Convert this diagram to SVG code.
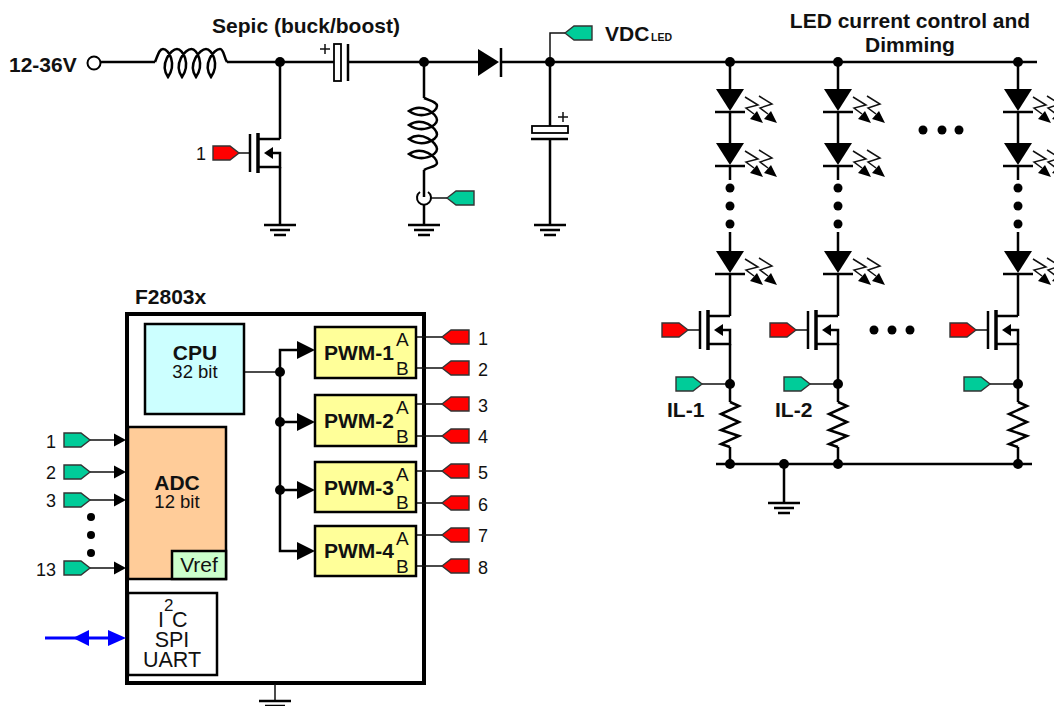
<svg xmlns="http://www.w3.org/2000/svg" xmlns:xlink="http://www.w3.org/1999/xlink" width="1054" height="706" viewBox="0 0 1054 706">
<style>
text{font-family:"Liberation Sans",Arial,sans-serif;fill:#111}
.b{font-weight:bold}
.w{fill:none;stroke:#000;stroke-width:2.500}
.ch{fill:none;stroke:#000;stroke-width:3.500}
.t{fill:none;stroke:#111;stroke-width:1.500}
.f{fill:#000;stroke:none}
.box{stroke:#000;stroke-width:2.500}
.red{fill:#ff0000;stroke:#333;stroke-width:1.400}
.grn{fill:#00cc99;stroke:#333;stroke-width:1.400}
.pn{font-size:18px}
.pl{font-size:19px}
.pw{font-size:21px;font-weight:bold}
</style>
<defs>
<path id="coil" class="w" d="M0,0C3,-7 4,-13 8,-13C14,-13 22,2 13,15C4,2 16,-13 22,-13C28,-13 36,2 27,15C18,2 30,-13 36.500,-13C42,-13 50,2 41,15C32,2 45,-13 51,-13C57,-13 65,2 56,15C47,2 59,-13 65,-13C69,-13 69,-4 72,0"/>
<g id="gnd" class="w"><path d="M-16,0H16M-10,5H10M-6,10H6"/></g>
<g id="led"><path class="f" d="M-14,-22H14L0,0Z"/><path class="w" d="M-15,1H15"/>
<path class="t" d="M15,-14L28,-6L16,-3L24,3M29,-15L42,-7L30,-3L38,3"/>
<path class="f" d="M33,12L20,8L27,0ZM47,12L34,8L41,0Z"/></g>
<g id="fet"><path class="w" d="M-30,-19V19"/><path class="ch" d="M-22,-20V20"/><path class="w" d="M-22,-14H0M-22,14H0V0H-8"/><path class="f" d="M-16,0L-7,-6V6Z"/></g>
<path id="tr" d="M0,-7H17L26,0L17,7H0Z"/>
<path id="tl" d="M0,0L9,-7H27V7H9Z"/>
<path id="res" class="w" d="M0,0L9,4L-9,12L9,20L-9,28L9,34L-9,42L0,45"/>
<path id="arrR" class="f" d="M0,-9L18,0L0,9Z"/>
<path id="arrS" class="f" d="M0,-6.500L12,0L0,6.500Z"/>
</defs>

<g id="chip"><rect x="127" y="314" width="297" height="369" fill="#fff" stroke="#000" stroke-width="4"/></g>

<g id="connectors">
<path class="w" d="M101,62H155M227,62H334M348,62H478M501,62H1037M280,62V139M280,167V225M424,62V98M424,170V197M424,205V225M550,62V126M550,139V225"/>
<path class="t" d="M550,62V33H565M431,198H447M250,153H238"/>
<path class="w" d="M730,62V89M730,111V143M730,165V180M730,232V251M730,273V316M730,344V402M730,447V464M838,62V89M838,111V143M838,165V180M838,232V251M838,273V316M838,344V402M838,447V464M1018,62V89M1018,111V143M1018,165V180M1018,232V251M1018,273V316M1018,344V402M1018,447V464M716,464H1032M784,464V503"/>
<path class="t" d="M688,330H700M796,330H808M976,330H988M702,384H730M810,384H838M990,384H1018"/>
<path class="t" d="M416,337H442M416,368H442M416,404H442M416,436H442M416,471H442M416,503H442M416,535H442M416,566H442"/>
<path class="t" d="M90,440H114M90,472H114M90,500H114M90,568H114M244,372H280M275,684V701"/>
<path class="w" d="M297,350H280V551H297M280,422H297M280,490H297"/>
<g fill="#0000ff"><path d="M45,638H110" stroke="#0000ff" stroke-width="3"/><path d="M73,638L89,630V646ZM126,638L108,630V646Z"/></g>
</g>

<g id="chip-arrows">
<use href="#arrS" x="114" y="440"/><use href="#arrS" x="114" y="472"/><use href="#arrS" x="114" y="500"/><use href="#arrS" x="114" y="568"/>
</g>
<g id="cpu"><rect class="box" x="145" y="324" width="99" height="90" fill="#ccffff"/><text class="b" x="195" y="360" font-size="21" text-anchor="middle">CPU</text><text x="195" y="378" font-size="18.500" text-anchor="middle">32 bit</text></g>
<g id="adc"><rect class="box" x="128" y="427" width="98" height="152" fill="#ffcc99"/><text class="b" x="177" y="490" font-size="21" text-anchor="middle">ADC</text><text x="177" y="508" font-size="18.500" text-anchor="middle">12 bit</text></g>
<g id="vref"><rect class="box" x="172" y="551" width="54" height="28" fill="#ccffcc"/><text x="199" y="572" font-size="21" text-anchor="middle">Vref</text></g>
<g id="comm"><rect class="box" x="128" y="593" width="89" height="82" fill="#fff"/><text x="158" y="627" font-size="21.500">I</text><text x="164" y="611" font-size="17">2</text><text x="172" y="627" font-size="21.500">C</text><text x="172" y="647" font-size="21.500" text-anchor="middle">SPI</text><text x="172" y="667" font-size="21.500" text-anchor="middle">UART</text></g>
<g id="pwm1"><rect class="box" x="315" y="327" width="101" height="51" fill="#ffff99"/><text class="pw" x="324" y="360">PWM-1</text><text class="pl" x="396" y="346">A</text><text class="pl" x="396" y="375">B</text></g>
<g id="pwm2"><rect class="box" x="315" y="395" width="101" height="51" fill="#ffff99"/><text class="pw" x="324" y="428">PWM-2</text><text class="pl" x="396" y="414">A</text><text class="pl" x="396" y="443">B</text></g>
<g id="pwm3"><rect class="box" x="315" y="462" width="101" height="50" fill="#ffff99"/><text class="pw" x="324" y="495">PWM-3</text><text class="pl" x="396" y="481">A</text><text class="pl" x="396" y="509">B</text></g>
<g id="pwm4"><rect class="box" x="315" y="526" width="101" height="50" fill="#ffff99"/><text class="pw" x="324" y="558">PWM-4</text><text class="pl" x="396" y="545">A</text><text class="pl" x="396" y="573">B</text></g>
<g id="pwm-arrows"><use href="#arrR" x="297" y="350"/><use href="#arrR" x="297" y="422"/><use href="#arrR" x="297" y="490"/><use href="#arrR" x="297" y="551"/>
<circle class="f" cx="280" cy="372" r="5"/><circle class="f" cx="280" cy="422" r="5"/><circle class="f" cx="280" cy="490" r="5"/></g>

<g id="pwm-tags">
<use href="#tl" class="red" x="442" y="337"/><use href="#tl" class="red" x="442" y="368"/><use href="#tl" class="red" x="442" y="404"/><use href="#tl" class="red" x="442" y="436"/><use href="#tl" class="red" x="442" y="471"/><use href="#tl" class="red" x="442" y="503"/><use href="#tl" class="red" x="442" y="535"/><use href="#tl" class="red" x="442" y="566"/>
<g class="pn"><text x="478" y="345">1</text><text x="478" y="376">2</text><text x="478" y="412">3</text><text x="478" y="443">4</text><text x="478" y="479">5</text><text x="478" y="511">6</text><text x="478" y="542">7</text><text x="478" y="574">8</text></g>
</g>
<g id="adc-tags">
<use href="#tr" class="grn" x="64" y="440"/><use href="#tr" class="grn" x="64" y="472"/><use href="#tr" class="grn" x="64" y="500"/><use href="#tr" class="grn" x="64" y="568"/>
<g class="pn" text-anchor="end"><text x="56" y="448">1</text><text x="56" y="479">2</text><text x="56" y="507">3</text><text x="56" y="576">13</text></g>
<circle class="f" cx="91" cy="517" r="4"/><circle class="f" cx="91" cy="535" r="4"/><circle class="f" cx="91" cy="553" r="4"/>
</g>
<text id="chip-label" class="b" x="135" y="304" font-size="21">F2803x</text>
<g id="chip-gnd"><use href="#gnd" x="275" y="701"/></g>

<g id="input"><circle cx="94" cy="63" r="6.500" fill="#fff" stroke="#000" stroke-width="2"/><text class="b" x="9" y="72" font-size="21">12-36V</text></g>
<text id="sepic-label" class="b" x="306" y="33" font-size="21" text-anchor="middle">Sepic (buck/boost)</text>
<g id="L1"><use href="#coil" x="155" y="62"/></g>
<g id="C1"><rect x="334" y="44" width="7" height="37" fill="#fff" stroke="#000" stroke-width="1.800"/><path class="w" d="M348,44V81"/><path class="t" d="M320,49H330M325,44V54"/></g>
<g id="D1"><path class="f" d="M478,49L499,62L478,76Z"/><path class="w" d="M501,48V77"/></g>
<g id="Q1"><use href="#fet" x="280" y="153"/><use href="#tr" class="red" x="213" y="153"/><text class="pn" x="196" y="160">1</text></g>
<g id="L2"><use href="#coil" transform="translate(424,98) rotate(90)"/></g>
<g id="sense"><path d="M420,192A7,7 0 1 0 428,192" fill="none" stroke="#000" stroke-width="2"/><use href="#tl" class="grn" x="447" y="198"/></g>
<g id="C2"><rect x="532" y="126" width="36" height="7" fill="#fff" stroke="#000" stroke-width="1.800"/><path class="w" d="M531,139H568"/><path class="t" d="M558,117H568M563,112V122"/></g>
<g id="vdc"><use href="#tl" class="grn" x="565" y="33"/><text class="b" x="605" y="41" font-size="21">VDC</text><text class="b" x="651" y="41" font-size="10.500">LED</text></g>
<g id="grounds"><use href="#gnd" x="280" y="225"/><use href="#gnd" x="424" y="225"/><use href="#gnd" x="550" y="225"/><use href="#gnd" x="784" y="503"/></g>
<text id="led-label" class="b" font-size="21" text-anchor="middle"><tspan x="910" y="28">LED current control and</tspan><tspan x="910" y="52">Dimming</tspan></text>

<g id="string1"><use href="#led" x="730" y="111"/><use href="#led" x="730" y="165"/><use href="#led" x="730" y="273"/><circle class="f" cx="730" cy="188" r="4.500"/><circle class="f" cx="730" cy="206" r="4.500"/><circle class="f" cx="730" cy="224" r="4.500"/><use href="#fet" x="730" y="330"/><use href="#tr" class="red" x="662" y="330"/><use href="#tr" class="grn" x="676" y="384"/><use href="#res" x="730" y="402"/><text class="b" x="667" y="417" font-size="21">IL-1</text></g>
<g id="string2"><use href="#led" x="838" y="111"/><use href="#led" x="838" y="165"/><use href="#led" x="838" y="273"/><circle class="f" cx="838" cy="188" r="4.500"/><circle class="f" cx="838" cy="206" r="4.500"/><circle class="f" cx="838" cy="224" r="4.500"/><use href="#fet" x="838" y="330"/><use href="#tr" class="red" x="770" y="330"/><use href="#tr" class="grn" x="784" y="384"/><use href="#res" x="838" y="402"/><text class="b" x="775" y="417" font-size="21">IL-2</text></g>
<g id="string3"><use href="#led" x="1018" y="111"/><use href="#led" x="1018" y="165"/><use href="#led" x="1018" y="273"/><circle class="f" cx="1018" cy="188" r="4.500"/><circle class="f" cx="1018" cy="206" r="4.500"/><circle class="f" cx="1018" cy="224" r="4.500"/><use href="#fet" x="1018" y="330"/><use href="#tr" class="red" x="950" y="330"/><use href="#tr" class="grn" x="964" y="384"/><use href="#res" x="1018" y="402"/></g>
<g id="ellipses"><circle class="f" cx="923" cy="130" r="4.500"/><circle class="f" cx="942" cy="130" r="4.500"/><circle class="f" cx="959" cy="130" r="4.500"/><circle class="f" cx="874" cy="330" r="4.500"/><circle class="f" cx="892" cy="330" r="4.500"/><circle class="f" cx="910" cy="330" r="4.500"/></g>
<g id="junctions"><circle class="f" cx="280" cy="62" r="5"/><circle class="f" cx="424" cy="62" r="5"/><circle class="f" cx="550" cy="62" r="5"/><circle class="f" cx="730" cy="62" r="5"/><circle class="f" cx="838" cy="62" r="5"/><circle class="f" cx="1018" cy="62" r="5"/><circle class="f" cx="730" cy="384" r="5"/><circle class="f" cx="838" cy="384" r="5"/><circle class="f" cx="1018" cy="384" r="5"/><circle class="f" cx="730" cy="464" r="5"/><circle class="f" cx="784" cy="464" r="5"/><circle class="f" cx="838" cy="464" r="5"/><circle class="f" cx="1018" cy="464" r="5"/></g>
</svg>
